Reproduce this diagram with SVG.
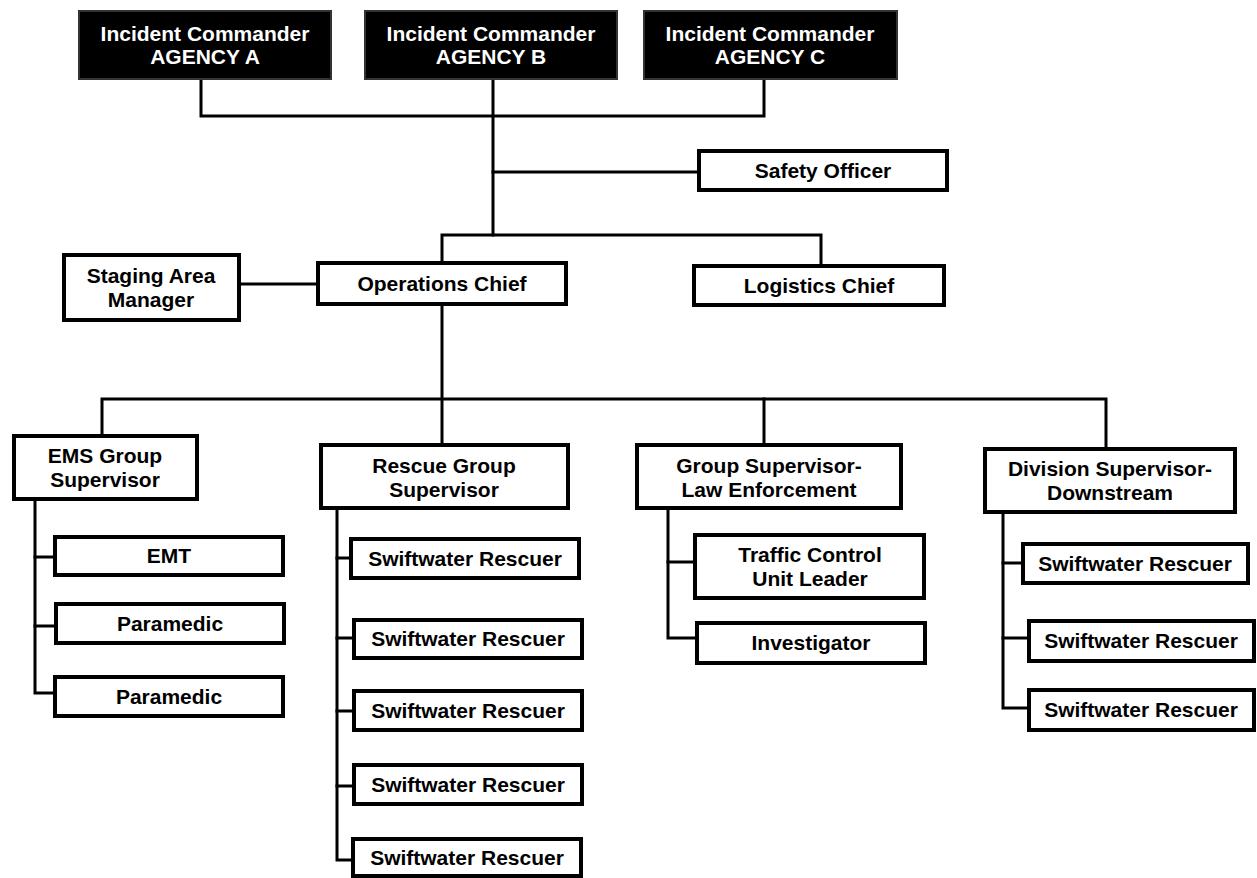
<svg xmlns="http://www.w3.org/2000/svg" width="1257" height="878" viewBox="0 0 1257 878">
<style>
.box{fill:#fff;stroke:#000;stroke-width:4}
.dark{fill:#000;stroke:#333;stroke-width:2}
text{font-family:"Liberation Sans",Arial,sans-serif;font-weight:bold;font-size:21px;text-anchor:middle;fill:#000}
.dark-t{fill:#fff}
.conn{fill:none;stroke:#000;stroke-width:3;stroke-linecap:square;stroke-linejoin:miter}
</style>
<rect width="1257" height="878" fill="#fff"/>
<g id="connectors">
<path class="conn" d="M201,80 V116 H764 V80"/>
<path class="conn" d="M493,80 V235"/>
<path class="conn" d="M493,172 H697"/>
<path class="conn" d="M442,261 V235 H821 V264"/>
<path class="conn" d="M241,284 H316"/>
<path class="conn" d="M442,306 V443"/>
<path class="conn" d="M102,434 V399 H1106 V447"/>
<path class="conn" d="M764,399 V443"/>
<path class="conn" d="M35,501 V693 H53"/>
<path class="conn" d="M35,557 H53 M35,626 H54"/>
<path class="conn" d="M337,510 V860 H351"/>
<path class="conn" d="M337,558 H349 M337,638 H352 M337,711 H352 M337,786 H352"/>
<path class="conn" d="M668,510 V638 H695"/>
<path class="conn" d="M668,562 H693"/>
<path class="conn" d="M1003,514 V708 H1027"/>
<path class="conn" d="M1003,563 H1021 M1003,638 H1027"/>
</g>
<g id="ic-a"><rect class="dark" x="79" y="11" width="252" height="68"/><text class="dark-t" x="205" y="41">Incident Commander</text><text class="dark-t" x="205" y="64">AGENCY A</text></g>
<g id="ic-b"><rect class="dark" x="365" y="11" width="252" height="68"/><text class="dark-t" x="491" y="41">Incident Commander</text><text class="dark-t" x="491" y="64">AGENCY B</text></g>
<g id="ic-c"><rect class="dark" x="644" y="11" width="253" height="68"/><text class="dark-t" x="770" y="41">Incident Commander</text><text class="dark-t" x="770" y="64">AGENCY C</text></g>
<g id="safety"><rect class="box" x="699" y="151" width="248" height="39"/><text x="823" y="178">Safety Officer</text></g>
<g id="staging"><rect class="box" x="64" y="255" width="175" height="65"/><text x="151" y="283">Staging Area</text><text x="151" y="307">Manager</text></g>
<g id="ops"><rect class="box" x="318" y="263" width="248" height="41"/><text x="442" y="291">Operations Chief</text></g>
<g id="logistics"><rect class="box" x="694" y="266" width="250" height="39"/><text x="819" y="293">Logistics Chief</text></g>
<g id="ems"><rect class="box" x="14" y="436" width="183" height="63"/><text x="105" y="463">EMS Group</text><text x="105" y="487">Supervisor</text></g>
<g id="emt"><rect class="box" x="55" y="537" width="228" height="38"/><text x="169" y="563">EMT</text></g>
<g id="para1"><rect class="box" x="56" y="604" width="228" height="39"/><text x="170" y="631">Paramedic</text></g>
<g id="para2"><rect class="box" x="55" y="677" width="228" height="39"/><text x="169" y="704">Paramedic</text></g>
<g id="rescue"><rect class="box" x="321" y="445" width="247" height="63"/><text x="444" y="473">Rescue Group</text><text x="444" y="497">Supervisor</text></g>
<g id="sw1"><rect class="box" x="351" y="539" width="228" height="39"/><text x="465" y="566">Swiftwater Rescuer</text></g>
<g id="sw2"><rect class="box" x="354" y="620" width="228" height="38"/><text x="468" y="646">Swiftwater Rescuer</text></g>
<g id="sw3"><rect class="box" x="354" y="691" width="228" height="39"/><text x="468" y="718">Swiftwater Rescuer</text></g>
<g id="sw4"><rect class="box" x="354" y="765" width="228" height="39"/><text x="468" y="792">Swiftwater Rescuer</text></g>
<g id="sw5"><rect class="box" x="353" y="839" width="228" height="37"/><text x="467" y="865">Swiftwater Rescuer</text></g>
<g id="law"><rect class="box" x="637" y="445" width="264" height="63"/><text x="769" y="473">Group Supervisor-</text><text x="769" y="497">Law Enforcement</text></g>
<g id="traffic"><rect class="box" x="695" y="535" width="229" height="63"/><text x="810" y="562">Traffic Control</text><text x="810" y="586">Unit Leader</text></g>
<g id="investigator"><rect class="box" x="697" y="623" width="228" height="40"/><text x="811" y="650">Investigator</text></g>
<g id="division"><rect class="box" x="985" y="449" width="250" height="63"/><text x="1110" y="476">Division Supervisor-</text><text x="1110" y="500">Downstream</text></g>
<g id="dsw1"><rect class="box" x="1023" y="544" width="225" height="39"/><text x="1135" y="571">Swiftwater Rescuer</text></g>
<g id="dsw2"><rect class="box" x="1029" y="621" width="225" height="40"/><text x="1141" y="648">Swiftwater Rescuer</text></g>
<g id="dsw3"><rect class="box" x="1029" y="690" width="225" height="40"/><text x="1141" y="717">Swiftwater Rescuer</text></g>
</svg>
